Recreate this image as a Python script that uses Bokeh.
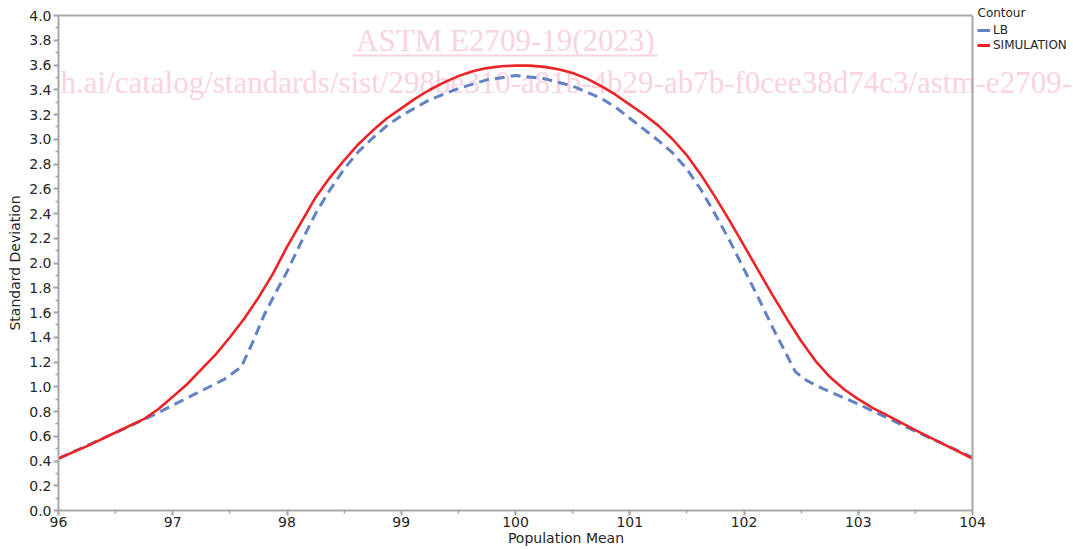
from bokeh.plotting import figure
from bokeh.models import (Range1d, SingleIntervalTicker, FixedTicker, PrintfTickFormatter,
                          Legend, LegendItem, Label, BoxAnnotation, Span, LinearAxis)
from bokeh.embed import file_html
from bokeh.resources import INLINE

# ---- data ----
x_min, x_max = 96, 104
y_min, y_max = 0.0, 4.0

sim_mean = [96.0, 96.25, 96.5, 96.75, 96.875, 97.0, 97.125, 97.25, 97.375, 97.5,
            97.625, 97.75, 97.875, 98.0, 98.125, 98.25, 98.375, 98.5, 98.625,
            98.75, 98.875, 99.0, 99.125, 99.25, 99.375, 99.5, 99.625, 99.75,
            99.875, 100.0, 100.125, 100.25, 100.375, 100.5, 100.625, 100.75,
            100.875, 101.0, 101.125, 101.25, 101.375, 101.5, 101.625, 101.75,
            101.875, 102.0, 102.125, 102.25, 102.375, 102.5, 102.625, 102.75,
            102.875, 103.0, 103.125, 103.25, 103.5, 103.75, 104.0]
sim_sd = [0.42, 0.52, 0.63, 0.74, 0.82, 0.92, 1.02, 1.14, 1.26, 1.40,
          1.55, 1.72, 1.91, 2.13, 2.33, 2.53, 2.69, 2.83, 2.96,
          3.07, 3.17, 3.25, 3.33, 3.40, 3.46, 3.51, 3.55, 3.575,
          3.59, 3.595, 3.595, 3.585, 3.565, 3.535, 3.49, 3.43,
          3.36, 3.28, 3.20, 3.11, 3.00, 2.87, 2.71, 2.53,
          2.34, 2.14, 1.94, 1.74, 1.55, 1.37, 1.21, 1.08,
          0.98, 0.90, 0.83, 0.77, 0.65, 0.535, 0.42]

lb_mean = [96.0, 96.5, 96.85, 97.0, 97.3, 97.45, 97.6, 97.7, 97.8, 97.9, 98.0,
           98.125, 98.25, 98.375, 98.5, 98.625, 98.75, 98.875, 99.0, 99.25,
           99.5, 99.75, 100.0, 100.25, 100.5, 100.75, 100.875, 101.0, 101.125,
           101.25, 101.375, 101.5, 101.625, 101.75, 101.875, 102.0, 102.125,
           102.25, 102.35, 102.45, 102.55, 102.7, 102.85, 103.0, 103.5, 104.0]
lb_sd = [0.42, 0.63, 0.78, 0.85, 0.99, 1.06, 1.16, 1.36, 1.58, 1.76, 1.93,
         2.17, 2.40, 2.59, 2.76, 2.90, 3.01, 3.11, 3.19, 3.32,
         3.41, 3.48, 3.515, 3.49, 3.43, 3.33, 3.26, 3.17, 3.08,
         2.99, 2.89, 2.76, 2.59, 2.39, 2.18, 1.95, 1.72,
         1.48, 1.30, 1.12, 1.05, 0.98, 0.92, 0.86, 0.64, 0.43]

series_names = ["LB", "SIMULATION"]
legend_title = "Contour"
x_label = "Population Mean"
y_label = "Standard Deviation"
watermark_title = "ASTM E2709-19(2023)"
watermark_url = "https://standards.iteh.ai/catalog/standards/sist/298be310-a81b-4b29-ab7b-f0cee38d74c3/astm-e2709-192023"

BLUE = "#6282c6"
RED = "#ec2327"
AXIS = "#a8a8a8"
TEXT = "#262626"
FONT = "DejaVu Sans"
PINK = "#f9d3de"

# layout: plot box 914 px wide, legend column to its right inside the frame
W, H = 1073, 549
LEFT, TOP, BOTTOM = 58, 15, 39
BOX_W = 914
frame_w = W - LEFT
px_per_unit = BOX_W / (x_max - x_min)
x_end = x_min + frame_w / px_per_unit

p = figure(width=W, height=H, output_backend="svg", toolbar_location=None,
           x_range=Range1d(x_min, x_end), y_range=Range1d(y_min, y_max),
           min_border_left=LEFT, min_border_right=0, min_border_top=TOP,
           min_border_bottom=BOTTOM)
p.grid.visible = False
p.outline_line_color = None
p.background_fill_color = "white"

# legend title in the top border
p.title.text = legend_title
p.title.align = "left"
p.title.offset = 919
p.title.vertical_align = "bottom"
p.title.standoff = -8
p.title.text_font = FONT
p.title.text_font_size = "12px"
p.title.text_font_style = "normal"
p.title.text_color = TEXT

# watermark, drawn behind the curves
wm1 = Label(x=447, y=470, x_units="screen", y_units="screen", text=watermark_title,
            text_align="center", text_baseline="middle", text_color=PINK,
            text_font="Liberation Serif", text_font_size="31px", level="underlay")
wm2 = Label(x=-240, y=428, x_units="screen", y_units="screen", text=watermark_url,
            text_align="left", text_baseline="middle", text_color=PINK,
            text_font="Liberation Serif", text_font_size="31px", level="underlay")
ul = BoxAnnotation(left=294, right=599, bottom=454, top=456, left_units="screen",
                   right_units="screen", bottom_units="screen", top_units="screen",
                   fill_color=PINK, fill_alpha=1, line_color=None, level="underlay")
p.add_layout(wm1)
p.add_layout(wm2)
p.add_layout(ul)

# curves
p.line(lb_mean, lb_sd, line_color=BLUE, line_width=3, line_dash="10 6")
p.line(sim_mean, sim_sd, line_color=RED, line_width=2.6)

# right edge of the plot box
p.add_layout(Span(location=x_max, dimension="height", line_color=AXIS, line_width=2))

# single-point proxies for solid legend glyphs (draw nothing in the plot)
r_lb = p.line(lb_mean[:1], lb_sd[:1], line_color=BLUE, line_width=3)
r_sim = p.line(sim_mean[:1], sim_sd[:1], line_color=RED, line_width=3)

legend = Legend(items=[LegendItem(label=series_names[0], renderers=[r_lb]),
                       LegendItem(label=series_names[1], renderers=[r_sim])],
                location=(919, 458),
                label_text_font=FONT, label_text_font_size="12px",
                label_text_color=TEXT, label_standoff=3,
                glyph_width=13, glyph_height=14, label_height=14,
                spacing=1, padding=0, margin=0,
                border_line_color=None, background_fill_alpha=0)
p.add_layout(legend, "center")

bottom_axis = p.below[0]
left_axis = p.left[0]

# top edge of the plot box: a bare axis limited to the data extent
top_axis = LinearAxis(ticker=FixedTicker(ticks=[]), bounds=(x_min, x_max),
                      axis_line_color=AXIS, axis_line_width=2,
                      major_tick_out=0, minor_tick_out=0, major_tick_in=0,
                      minor_tick_in=0, major_label_standoff=0,
                      major_label_text_font_size="0px")
p.add_layout(top_axis, "above")

# axes
for ax in (bottom_axis, left_axis):
    ax.axis_line_color = AXIS
    ax.axis_line_width = 2
    ax.major_tick_line_color = AXIS
    ax.minor_tick_line_color = AXIS
    ax.major_tick_line_width = 2
    ax.minor_tick_line_width = 1.5
    ax.major_tick_out = 5
    ax.major_tick_in = 0
    ax.minor_tick_out = 3
    ax.minor_tick_in = 0
    ax.major_label_text_font = FONT
    ax.major_label_text_font_size = "14px"
    ax.major_label_text_color = TEXT
    ax.axis_label_text_font = FONT
    ax.axis_label_text_font_size = "14px"
    ax.axis_label_text_font_style = "normal"
    ax.axis_label_text_color = TEXT

bottom_axis.bounds = (x_min, x_max)
bottom_axis.ticker = SingleIntervalTicker(interval=1, num_minor_ticks=2)
left_axis.ticker = SingleIntervalTicker(interval=0.2, num_minor_ticks=2)
left_axis.formatter = PrintfTickFormatter(format="%.1f")
bottom_axis.axis_label = x_label
left_axis.axis_label = y_label
bottom_axis.major_label_standoff = 1
bottom_axis.axis_label_standoff = 0
left_axis.major_label_standoff = 2
left_axis.axis_label_standoff = 3

open("out.html", "w").write(file_html(p, INLINE))
